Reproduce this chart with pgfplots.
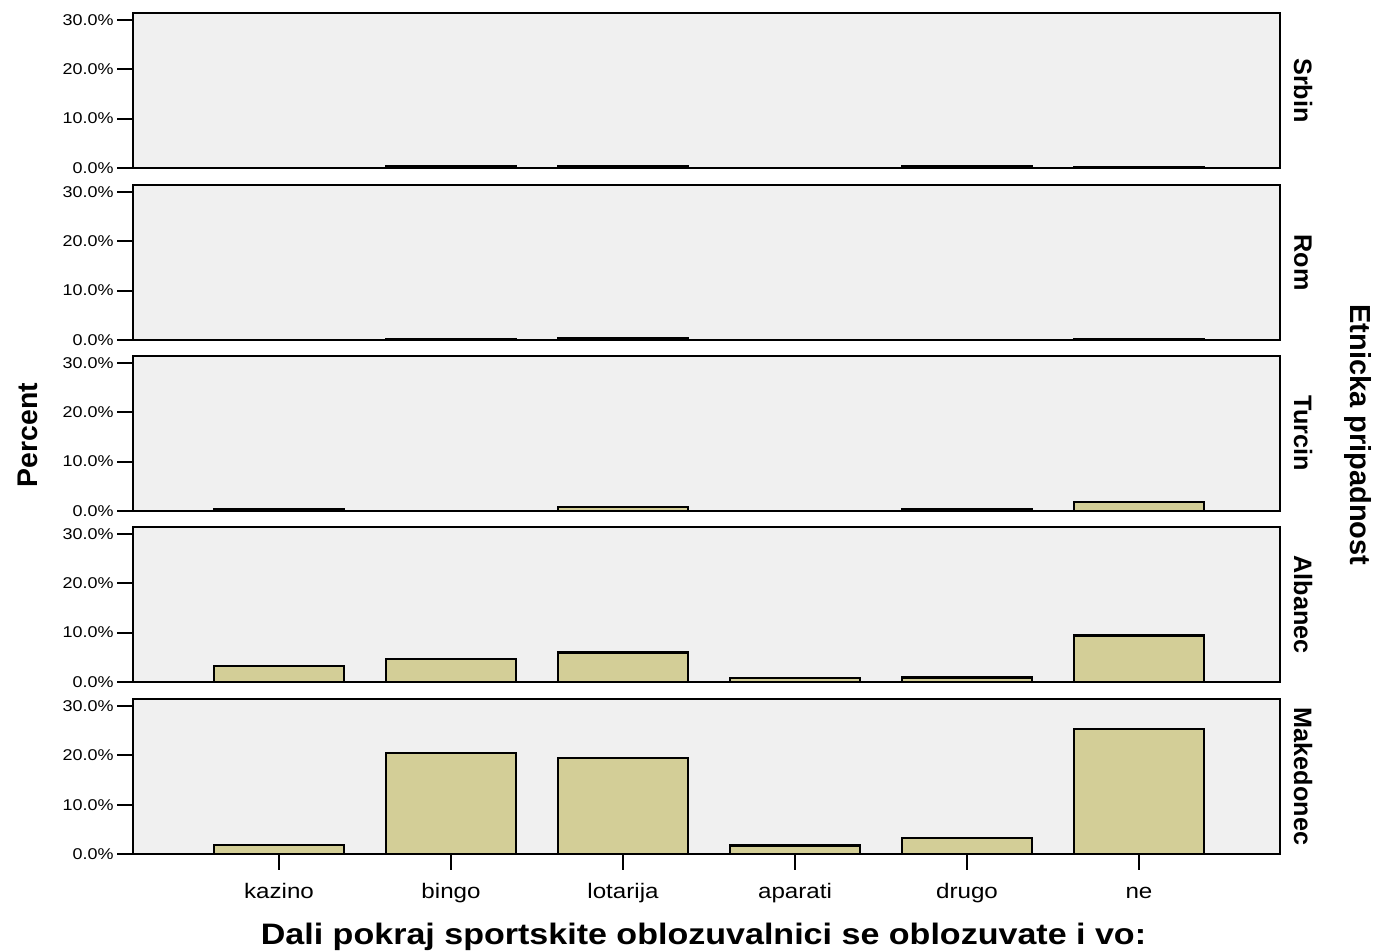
\documentclass[border=0pt]{standalone}
\usepackage{pgfplots}
\pgfplotsset{compat=1.18}
\usepackage{fontspec}
\setmainfont{Liberation Sans}
\newfontfamily\widesans[FakeStretch=1.15]{Liberation Sans}
\definecolor{barfill}{RGB}{211,206,151}
\definecolor{panelbg}{RGB}{240,240,240}
\tikzset{plab/.style={rotate=-90, font=\bfseries\fontsize{12.6}{14}\selectfont}}
\pgfplotsset{panel/.style={
  scale only axis, width=573.5pt, height=77.5pt,
  anchor=south west, clip=false,
  xmin=-0.849, xmax=5.82, ymin=0, ymax=31.4,
  axis background/.style={fill=panelbg},
  axis line style={black, line width=1pt},
  ytick={0,10,20,30}, yticklabels={0.0\%,10.0\%,20.0\%,30.0\%},
  yticklabel style={font=\widesans\fontsize{7.8}{9}\selectfont, inner sep=1.5pt},
  ytick pos=left, xtick pos=bottom, tick align=outside, major tick length=8pt,
  tick style={black, line width=1pt},
  xtick=\empty,
  ybar, bar width=0.756,
},
bars/.style={fill=barfill, draw=black, line width=1.2pt}
}
\begin{document}
\begin{tikzpicture}
\useasboundingbox (0,0) rectangle (690.5pt,476pt);
% Srbin
\begin{axis}[panel, at={(66.5pt,392pt)}]
\addplot[bars] coordinates {(1,0.3) (2,0.3) (4,0.3) (5,0.2)};
\node[plab] at ([xshift=11.5pt]rel axis cs:1,0.5) {Srbin};
\end{axis}
% Rom
\begin{axis}[panel, at={(66.5pt,306pt)}]
\addplot[bars] coordinates {(1,0.1) (2,0.4) (5,0.1)};
\node[plab] at ([xshift=11.5pt]rel axis cs:1,0.5) {Rom};
\end{axis}
% Turcin
\begin{axis}[panel, at={(66.5pt,220.5pt)}]
\addplot[bars] coordinates {(0,0.3) (2,0.8) (4,0.3) (5,1.8)};
\node[plab] at ([xshift=11.5pt]rel axis cs:1,0.5) {Turcin};
\end{axis}
% Albanec
\begin{axis}[panel, at={(66.5pt,135pt)}]
\addplot[bars] coordinates {(0,3.2) (1,4.7) (2,6.0) (3,0.75) (4,0.9) (5,9.4)};
\node[plab] at ([xshift=11.5pt]rel axis cs:1,0.5) {Albanec};
\end{axis}
% Makedonec
\begin{axis}[panel, at={(66.5pt,49pt)},
  xtick={0,1,2,3,4,5},
  xticklabels={kazino,bingo,lotarija,aparati,drugo,ne},
  xticklabel style={font=\widesans\fontsize{10.5}{12}\selectfont, text height=1.6ex, text depth=0.4ex, yshift=-2.5pt}]
\addplot[bars] coordinates {(0,1.8) (1,20.5) (2,19.5) (3,1.7) (4,3.2) (5,25.3)};
\node[plab] at ([xshift=11.5pt]rel axis cs:1,0.5) {Makedonec};
\end{axis}
\node[rotate=90, font=\bfseries\fontsize{14.2}{16}\selectfont] at (14pt,258.5pt) {Percent};
\node[rotate=-90, font=\bfseries\fontsize{14.5}{16}\selectfont] at (679pt,258.5pt) {Etnicka pripadnost};
\node[font=\widesans\bfseries\fontsize{14.8}{17}\selectfont] at (351.75pt,7.5pt) {Dali pokraj sportskite oblozuvalnici se oblozuvate i vo:};
\end{tikzpicture}
\end{document}
